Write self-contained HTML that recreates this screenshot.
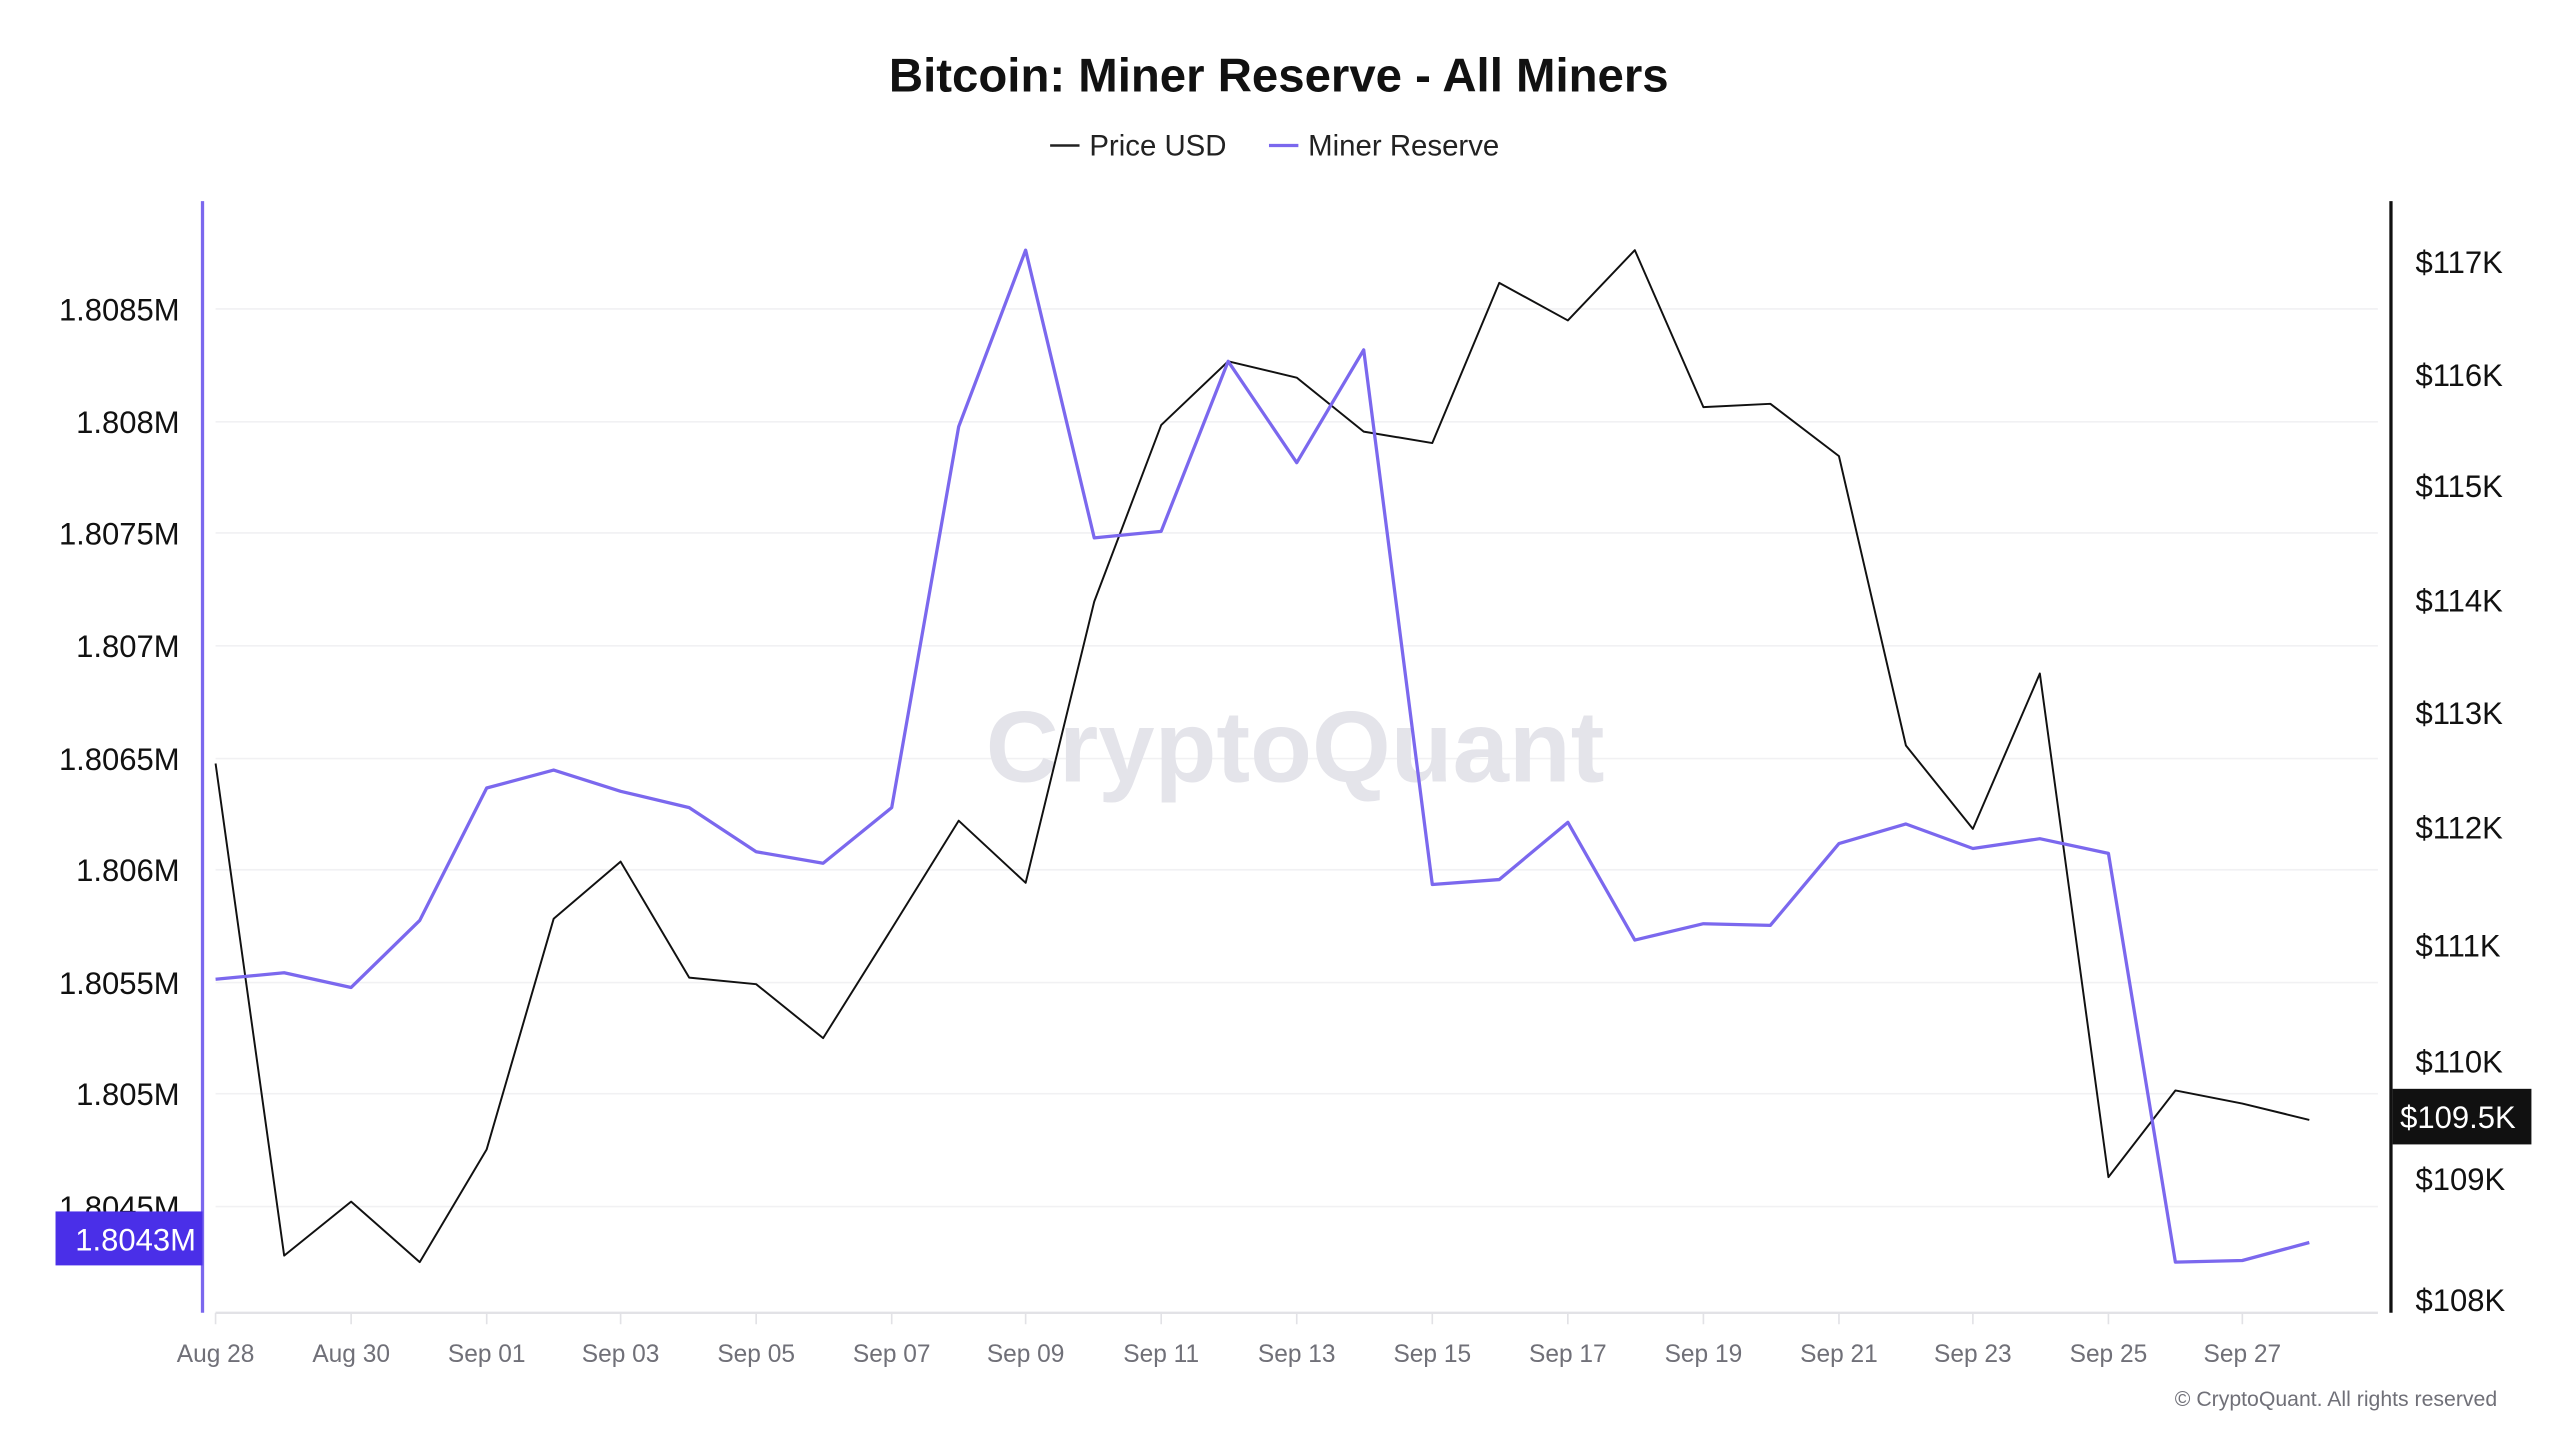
<!DOCTYPE html>
<html><head><meta charset="utf-8"><style>
html,body{margin:0;padding:0;background:#fff;}
svg{display:block;}
text{font-family:"Liberation Sans",sans-serif;}
</style></head><body>
<svg width="2560" height="1440" viewBox="0 0 1567.5 880.8" preserveAspectRatio="none" xmlns="http://www.w3.org/2000/svg">
<rect width="1568" height="881" fill="#fff"/>
<text x="783" y="56" text-anchor="middle" font-size="29" font-weight="bold" fill="#111">Bitcoin: Miner Reserve - All Miners</text>
<line x1="643" y1="89" x2="661" y2="89" stroke="#222" stroke-width="1.5"/>
<text x="667" y="95" font-size="18" fill="#222">Price USD</text>
<line x1="777" y1="89" x2="795" y2="89" stroke="#7b68ee" stroke-width="2"/>
<text x="801" y="95" font-size="18" fill="#222">Miner Reserve</text>
<g stroke="#f1f1f3" stroke-width="1">
<line x1="132" y1="189" x2="1456" y2="189"/><line x1="132" y1="258" x2="1456" y2="258"/>
<line x1="132" y1="326" x2="1456" y2="326"/><line x1="132" y1="395" x2="1456" y2="395"/>
<line x1="132" y1="464" x2="1456" y2="464"/><line x1="132" y1="532" x2="1456" y2="532"/>
<line x1="132" y1="601" x2="1456" y2="601"/><line x1="132" y1="669" x2="1456" y2="669"/>
<line x1="132" y1="738" x2="1456" y2="738"/>
</g>
<text x="793" y="478" text-anchor="middle" font-size="62" font-weight="bold" fill="#e4e4ea">CryptoQuant</text>
<g font-size="19" fill="#111" text-anchor="end">
<text x="110" y="196">1.8085M</text><text x="110" y="265">1.808M</text><text x="110" y="333">1.8075M</text>
<text x="110" y="402">1.807M</text><text x="110" y="471">1.8065M</text><text x="110" y="539">1.806M</text>
<text x="110" y="608">1.8055M</text><text x="110" y="676">1.805M</text><text x="110" y="745">1.8045M</text>
</g>
<g font-size="19" fill="#111">
<text x="1479" y="167">$117K</text><text x="1479" y="236">$116K</text><text x="1479" y="304">$115K</text>
<text x="1479" y="374">$114K</text><text x="1479" y="443">$113K</text><text x="1479" y="513">$112K</text>
<text x="1479" y="585">$111K</text><text x="1479" y="656">$110K</text><text x="1479" y="728">$109K</text>
<text x="1479" y="802">$108K</text>
</g>
<line x1="132" y1="803" x2="1456" y2="803" stroke="#e2e2e6" stroke-width="1.5"/>
<g stroke="#e2e2e6" stroke-width="1">
<line x1="132" y1="803" x2="132" y2="810"/><line x1="215" y1="803" x2="215" y2="810"/><line x1="298" y1="803" x2="298" y2="810"/>
<line x1="380" y1="803" x2="380" y2="810"/><line x1="463" y1="803" x2="463" y2="810"/><line x1="546" y1="803" x2="546" y2="810"/>
<line x1="628" y1="803" x2="628" y2="810"/><line x1="711" y1="803" x2="711" y2="810"/><line x1="794" y1="803" x2="794" y2="810"/>
<line x1="877" y1="803" x2="877" y2="810"/><line x1="960" y1="803" x2="960" y2="810"/><line x1="1043" y1="803" x2="1043" y2="810"/>
<line x1="1126" y1="803" x2="1126" y2="810"/><line x1="1208" y1="803" x2="1208" y2="810"/><line x1="1291" y1="803" x2="1291" y2="810"/>
<line x1="1373" y1="803" x2="1373" y2="810"/>
</g>
<g font-size="15" fill="#707078" text-anchor="middle">
<text x="132" y="833">Aug 28</text><text x="215" y="833">Aug 30</text><text x="298" y="833">Sep 01</text>
<text x="380" y="833">Sep 03</text><text x="463" y="833">Sep 05</text><text x="546" y="833">Sep 07</text>
<text x="628" y="833">Sep 09</text><text x="711" y="833">Sep 11</text><text x="794" y="833">Sep 13</text>
<text x="877" y="833">Sep 15</text><text x="960" y="833">Sep 17</text><text x="1043" y="833">Sep 19</text>
<text x="1126" y="833">Sep 21</text><text x="1208" y="833">Sep 23</text><text x="1291" y="833">Sep 25</text>
<text x="1373" y="833">Sep 27</text>
</g>
<line x1="124" y1="123" x2="124" y2="803" stroke="#7b68ee" stroke-width="2"/>
<line x1="1464" y1="123" x2="1464" y2="803" stroke="#111" stroke-width="2"/>
<polyline fill="none" stroke="#111" stroke-width="1.2" stroke-linejoin="round" points="132,467 174,768 215,735 257,772 298,703 339,562 380,527 422,598 463,602 504,635 546,568 587,502 628,540 670,368 711,260 752,221 794,231 835,264 877,271 918,173 960,196 1001,153 1043,249 1084,247 1126,279 1167,456 1208,507 1249,412 1291,720 1332,667 1373,675 1414,685"/>
<polyline fill="none" stroke="#7b68ee" stroke-width="2" stroke-linejoin="round" points="132,599 174,595 215,604 257,563 298,482 339,471 380,484 422,494 463,521 504,528 546,494 587,261 628,153 670,329 711,325 752,221 794,283 835,214 877,541 918,538 960,503 1001,575 1043,565 1084,566 1126,516 1167,504 1208,519 1249,513 1291,522 1332,772 1373,771 1414,760"/>
<rect x="34" y="741" width="90" height="33" fill="#4a2fe8"/>
<text x="120" y="765" text-anchor="end" font-size="19" fill="#fff">1.8043M</text>
<rect x="1465" y="666" width="85" height="34" fill="#111"/>
<text x="1505" y="690" text-anchor="middle" font-size="19" fill="#fff">$109.5K</text>
<text x="1529" y="860" text-anchor="end" font-size="13" fill="#707078">© CryptoQuant. All rights reserved</text>
</svg>
</body></html>
